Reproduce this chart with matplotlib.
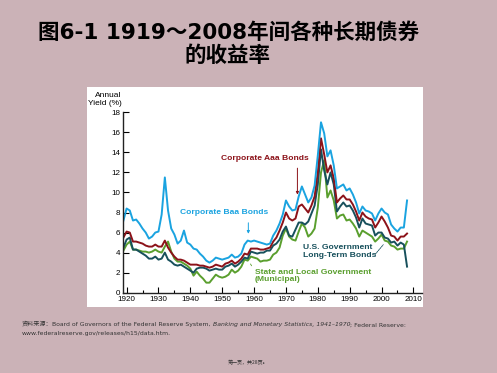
import numpy as np
import matplotlib
matplotlib.use("Agg")
import matplotlib.pyplot as plt
from matplotlib.patches import Rectangle
from matplotlib.text import Annotation

# annual yields (%), 1919..2008
years = np.arange(1919, 2009)

baa = [7.2, 8.4, 8.2, 7.2, 7.3, 6.9, 6.4, 6.0, 5.4, 5.6,
       6.0, 6.1, 7.8, 11.5, 8.2, 6.4, 5.8, 4.9, 5.2, 6.2,
       5.0, 4.8, 4.4, 4.3, 3.9, 3.6, 3.2, 3.0, 3.2, 3.5,
       3.4, 3.3, 3.4, 3.5, 3.8, 3.5, 3.6, 3.9, 4.8, 5.2,
       5.1, 5.2, 5.1, 5.0, 4.9, 4.8, 4.9, 5.7, 6.2, 6.9,
       7.8, 9.2, 8.6, 8.2, 8.3, 9.6, 10.6, 9.8, 9.0, 9.5,
       10.7, 13.7, 17.0, 15.9, 13.6, 14.2, 12.7, 10.4, 10.6, 10.8,
       10.2, 10.4, 9.8, 9.0, 7.9, 8.6, 8.2, 8.1, 7.9, 7.2,
       7.9, 8.4, 8.0, 7.8, 6.8, 6.4, 6.1, 6.5, 6.5, 9.2]

aaa = [5.5, 6.1, 6.0, 5.1, 5.1, 5.0, 4.9, 4.7, 4.6, 4.6,
       4.8, 4.6, 4.6, 5.2, 4.5, 4.0, 3.6, 3.3, 3.3, 3.2,
       3.0, 2.8, 2.8, 2.8, 2.7, 2.7, 2.6, 2.5, 2.6, 2.8,
       2.7, 2.6, 2.9, 3.0, 3.2, 2.9, 3.1, 3.4, 3.9, 3.8,
       4.4, 4.4, 4.4, 4.3, 4.3, 4.4, 4.5, 5.1, 5.5, 6.2,
       7.0, 8.0, 7.4, 7.2, 7.4, 8.6, 8.8, 8.4, 8.0, 8.7,
       9.6, 12.0, 15.4, 13.8, 12.0, 12.7, 11.4, 9.0, 9.4, 9.7,
       9.3, 9.3, 8.8, 8.1, 7.2, 8.0, 7.6, 7.4, 7.3, 6.5,
       7.0, 7.6, 7.1, 6.5, 5.7, 5.6, 5.2, 5.6, 5.6, 5.9]

govt = [4.5, 5.3, 5.5, 4.3, 4.3, 4.1, 3.9, 3.7, 3.4, 3.4,
        3.6, 3.3, 3.4, 4.0, 3.3, 3.1, 2.8, 2.7, 2.8, 2.6,
        2.4, 2.2, 2.0, 2.4, 2.5, 2.5, 2.4, 2.2, 2.3, 2.4,
        2.3, 2.3, 2.6, 2.7, 2.9, 2.6, 2.8, 3.1, 3.5, 3.4,
        4.1, 4.0, 3.9, 4.0, 4.0, 4.2, 4.2, 4.7, 4.9, 5.3,
        6.1, 6.6, 5.7, 5.6, 6.3, 7.0, 7.0, 6.8, 7.1, 7.9,
        8.7, 10.8, 14.3, 12.2, 10.8, 12.0, 10.8, 8.1, 8.6, 9.0,
        8.6, 8.7, 8.2, 7.5, 6.5, 7.4, 6.9, 6.8, 6.7, 5.7,
        6.0, 6.0, 5.5, 5.4, 5.0, 5.1, 4.7, 5.0, 4.8, 2.6]

muni = [4.2, 4.8, 5.1, 4.3, 4.3, 4.2, 4.1, 4.1, 4.0, 4.1,
        4.3, 4.1, 4.0, 4.6, 5.1, 4.1, 3.4, 3.1, 3.1, 2.9,
        2.7, 2.4, 1.7, 2.1, 1.7, 1.4, 1.0, 1.0, 1.4, 1.8,
        1.6, 1.5, 1.6, 1.8, 2.3, 2.0, 2.2, 2.6, 3.3, 3.2,
        3.6, 3.5, 3.4, 3.1, 3.2, 3.2, 3.3, 3.8, 4.0, 4.5,
        5.7, 6.4, 5.6, 5.3, 5.2, 6.1, 6.9, 6.5, 5.6, 5.9,
        6.4, 8.5, 12.0, 13.2, 9.5, 10.2, 9.2, 7.4, 7.7, 7.8,
        7.2, 7.3, 6.9, 6.4, 5.6, 6.2, 6.0, 5.8, 5.6, 5.1,
        5.4, 5.8, 5.2, 5.1, 4.7, 4.6, 4.3, 4.4, 4.4, 5.1]

yticks = np.arange(0, 19, 2)
xticks = np.arange(1920, 2011, 10)

c_baa = "#1aa3e0"
c_aaa = "#8c1219"
c_gov = "#17505c"
c_muni = "#5a9f2e"

bg = "#cbb2b7"
lab_font = ["Liberation Sans", "DejaVu Sans"]
cjk_font = ["Noto Sans CJK SC", "DejaVu Sans"]
title_font = ["DejaVu Sans", "Noto Sans CJK SC"]

fig = plt.figure(figsize=(4.97, 3.73), dpi=100, facecolor=bg)

# white panel behind the chart
fig.patches.append(Rectangle((0.175, 0.177), 0.676, 0.590, transform=fig.transFigure,
                             facecolor="white", edgecolor="none", zorder=0))

# title
fig.text(0.459, 0.912, "图6-1 1919～2008年间各种长期债券", ha="center", va="center",
         fontsize=15.5, fontweight="bold", family=title_font, color="black")
fig.text(0.457, 0.851, "的收益率", ha="center", va="center",
         fontsize=15.5, fontweight="bold", family=title_font, color="black")

ax = fig.add_axes([0.248, 0.2153, 0.6005, 0.4837], zorder=2)
ax.set_facecolor("none")

ax.plot(years, muni, color=c_muni, lw=1.4)
ax.plot(years, govt, color=c_gov, lw=1.4)
ax.plot(years, aaa, color=c_aaa, lw=1.4)
ax.plot(years, baa, color=c_baa, lw=1.4)

ax.set_xlim(1918.95, 2012.6)
ax.set_ylim(0, 18)
ax.set_yticks(yticks)
ax.set_xticks(xticks)
ax.set_xticks(np.arange(1925, 2011, 10), minor=True)
ax.tick_params(axis="both", which="major", direction="in", length=4, width=0.8,
               labelsize=5.8, pad=2, colors="black")
ax.tick_params(axis="x", which="major", pad=2.6)
ax.tick_params(axis="x", which="minor", direction="in", length=2.5, width=0.8)
for lab in ax.get_xticklabels() + ax.get_yticklabels():
    lab.set_family(lab_font)
for s in ["top", "right"]:
    ax.spines[s].set_visible(False)
for s in ["left", "bottom"]:
    ax.spines[s].set_linewidth(1.0)
    ax.spines[s].set_color("#222222")

ax.text(-0.005, 1.03, "Annual\nYield (%)", transform=ax.transAxes, ha="right", va="bottom",
        multialignment="right", fontsize=6, family=lab_font, linespacing=1.2)

# series labels and pointers
kw = dict(fontsize=6.1, fontweight="bold", family=lab_font)
ax.text(1949.5, 13.4, "Corporate Aaa Bonds", color=c_aaa, ha="left", va="center", **kw)
ax.annotate("", xy=(1973.6, 9.5), xytext=(1973.6, 12.7),
            arrowprops=dict(arrowstyle="-|>", color=c_aaa, lw=0.7, mutation_scale=4))
ax.text(1936.7, 8.0, "Corporate Baa Bonds", color=c_baa, ha="left", va="center", **kw)
ax.annotate("", xy=(1958.2, 5.6), xytext=(1958.2, 7.25),
            arrowprops=dict(arrowstyle="-|>", color=c_baa, lw=0.7, mutation_scale=4))
ax.text(1975.4, 4.1, "U.S. Government\nLong-Term Bonds", color=c_gov, ha="left", va="center",
        linespacing=1.05, **kw)
ax.annotate("", xy=(2001.1, 5.0), xytext=(1997.4, 3.6),
            arrowprops=dict(arrowstyle="-", color=c_gov, lw=0.6, ls=(0, (2, 1))))
ax.text(1960.3, 1.7, "State and Local Government\n(Municipal)", color=c_muni, ha="left",
        va="center", linespacing=1.05, **kw)
ax.annotate("", xy=(1958.4, 3.1), xytext=(1959.7, 2.45),
            arrowprops=dict(arrowstyle="-", color=c_muni, lw=0.6))

# source note, pieces chained so the italic title sits inline
src = dict(fontsize=4.4, color="#333333")
prev = fig.text(0.044, 0.122, "资料来源：", family=cjk_font, va="bottom", **src)
pieces = [("Board of Governors of the Federal Reserve System, ", "normal"),
          ("Banking and Monetary Statistics, 1941–1970", "italic"),
          ("; Federal Reserve:", "normal")]
for txt, style in pieces:
    prev = fig.add_artist(Annotation(txt, xy=(1, 0), xycoords=prev, va="bottom", ha="left",
                                     style=style, family=["DejaVu Sans"], **src))
fig.text(0.044, 0.100, "www.federalreserve.gov/releases/h15/data.htm.", va="bottom",
         family=["DejaVu Sans"], **src)

fig.text(0.499, 0.027, "第一页，共28页。", ha="center", va="center", fontsize=3.6,
         family=cjk_font, color="#333333")

fig.savefig("out.png", dpi=100, facecolor=bg)
